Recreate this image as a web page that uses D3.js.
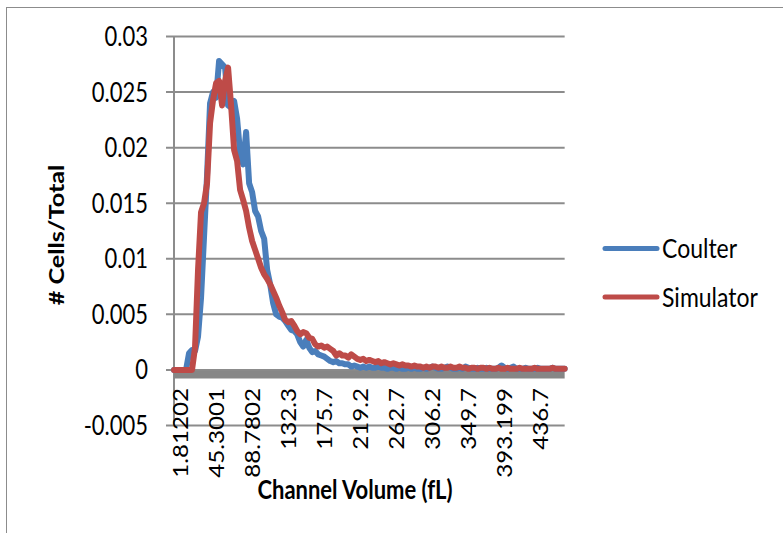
<!DOCTYPE html>
<html>
<head>
<meta charset="utf-8">
<script src="https://cdn.jsdelivr.net/npm/d3@7"></script>
<style>
  body { margin: 0; background: #fff; }
  text { font-family: Lato, "Open Sans", sans-serif; fill: #000; }
</style>
</head>
<body>
<div id="chart"></div>
<script>
// channel labels shown on the category axis (every 12th channel)
var channelLabels = ["1.81202", "45.3001", "88.7802", "132.3", "175.7", "219.2",
                     "262.7", "306.2", "349.7", "393.199", "436.7"];

var yTicks = [-0.005, 0, 0.005, 0.01, 0.015, 0.02, 0.025, 0.03];
var yTickLabels = ["-0.005", "0", "0.005", "0.01", "0.015", "0.02", "0.025", "0.03"];

var seriesNames = ["Coulter", "Simulator"];
var seriesColors = ["#4A7EBB", "#BE4B48"];

// # cells / total, one value per channel
var coulter = [
  0, 0, 0, 0, 0,
  0.0015, 0.0018, 0.0017, 0.0030, 0.0065, 0.0120, 0.0175, 0.0240, 0.0250, 0.0245,
  0.0278, 0.0275, 0.0272, 0.0238, 0.0236, 0.0242, 0.0226,
  0.0195, 0.0185, 0.0214, 0.0168, 0.0160, 0.0143, 0.0138, 0.0125, 0.0118, 0.0090,
  0.0077, 0.0060, 0.0050, 0.0048, 0.0047, 0.0044, 0.0040, 0.0036, 0.0035, 0.0032,
  0.0025, 0.0021, 0.0027, 0.0020, 0.0016, 0.0017, 0.0014,
  0.0013, 0.0012, 0.0010, 0.0008, 0.0007, 0.0008, 0.0006, 0.0006,
  0.0005, 0.0005, 0.0003, 0.0004, 0.0003, 0.0002, 0.0003, 0.0002, 0.0003, 0.0002,
  0.0002, 0.0003, 0.0002, 0.0002, 0.0001, 0.0002, 0.0002, 0.0001, 0.0002, 0.0001,
  0.0001, 0.0002, 0.0001, 0.0002, 0.0001, 0.0001, 0.0002, 0.0001, 0.0002, 0.0003,
  0.0002, 0.0001, 0.0001, 0.0002, 0.0003, 0.0002, 0.0001, 0.0001, 0.0002, 0.0001,
  0.0003, 0.0002, 0.0001, 0.0001, 0.0002, 0.0001, 0.0001, 0.0002, 0.0001, 0.0001,
  0.0001, 0.0002, 0.0004, 0.0002, 0.0001, 0.0002, 0.0003, 0.0001, 0.0001, 0.0001,
  0.0002, 0.0001, 0.0001, 0.0001, 0.0002, 0.0001, 0.0001, 0.0001, 0.0001, 0.0002,
  0.0001, 0.0001, 0.0001, 0.0001
];

var simulator = [
  0, 0, 0, 0, 0, 0, 0,
  0.0020, 0.0090, 0.0142, 0.0150, 0.0168, 0.0222, 0.0243, 0.0258, 0.0260, 0.0238,
  0.0260, 0.0272, 0.0238, 0.0198, 0.0188,
  0.0162, 0.0153, 0.0143, 0.0128, 0.0116, 0.0108,
  0.0100, 0.0092, 0.0086, 0.0082, 0.0077, 0.0071, 0.0065, 0.0058, 0.0052, 0.0045,
  0.0043, 0.0044, 0.0040, 0.0035, 0.0032, 0.0034, 0.0033, 0.0029, 0.0028, 0.0023,
  0.0021, 0.0022, 0.0020, 0.0021, 0.0019, 0.0017, 0.0013, 0.0015, 0.0013,
  0.0013, 0.0011, 0.0014, 0.0012, 0.0010, 0.0009, 0.0010, 0.0008, 0.0009, 0.0008,
  0.0007, 0.0008, 0.0006, 0.0007, 0.0006, 0.0005, 0.0006, 0.0005, 0.0004, 0.0005,
  0.0004, 0.0004, 0.0003, 0.0004, 0.0003,
  0.0003, 0.0002, 0.0003, 0.0002, 0.0003, 0.0003, 0.0002, 0.0003, 0.0002, 0.0002,
  0.0003, 0.0002, 0.0002, 0.0003, 0.0002, 0.0002, 0.0001, 0.0002, 0.0002, 0.0001,
  0.0002, 0.0002, 0.0001, 0.0002, 0.0001, 0.0001, 0.0002, 0.0001, 0.0001, 0.0002,
  0.0001, 0.0001, 0.0001, 0.0002, 0.0001, 0.0001, 0.0001, 0.0001, 0.0002, 0.0001,
  0.0001, 0.0001, 0.0001, 0.0001, 0.0002, 0.0001, 0.0001, 0.0001, 0.0001
];

var width = 783,
    height = 533;

var firstLabel = 2, labelEvery = 12;
var plotLeft = 174, plotTop = 36.5, plotBottom = 425.5, step = 3.005;
var stretch = "scale(1,1.2)"; // the source picture is a bit taller than wide

var svg = d3.select("#chart").append("svg")
    .attr("width", width)
    .attr("height", height);

// chart area border (cut off at right and bottom)
svg.append("rect")
    .attr("x", 6.5).attr("y", 7.5)
    .attr("width", 900).attr("height", 700)
    .attr("fill", "none")
    .attr("stroke", "#8c8c8c")
    .attr("stroke-width", 1);

var n = coulter.length;
var x = d3.scaleLinear()
    .domain([0, n - 1])
    .range([plotLeft, plotLeft + step * (n - 1)]);
var plotRight = x(n - 1);

var y = d3.scaleLinear()
    .domain([-0.005, 0.03])
    .range([plotBottom, plotTop]);

// gridlines with their little left ticks
svg.append("g")
  .selectAll("line")
  .data(yTicks)
  .enter()
  .append("line")
    .attr("x1", plotLeft - 8)
    .attr("x2", plotRight)
    .attr("y1", d => y(d))
    .attr("y2", d => y(d))
    .attr("stroke", "#8c8c8c")
    .attr("stroke-width", 2);

// vertical axis
svg.append("line")
    .attr("x1", plotLeft).attr("x2", plotLeft)
    .attr("y1", y(0.03)).attr("y2", y(-0.005))
    .attr("stroke", "#8c8c8c")
    .attr("stroke-width", 2);

// heavy category axis at zero
svg.append("line")
    .attr("x1", plotLeft).attr("x2", plotRight)
    .attr("y1", y(0) + 4.5).attr("y2", y(0) + 4.5)
    .attr("stroke", "#868686")
    .attr("stroke-width", 8);

svg.append("g")
  .selectAll("text")
  .data(yTicks)
  .enter()
  .append("text")
    .attr("transform", d => "translate(148," + y(d) + ") " + stretch)
    .attr("dy", "0.36em")
    .attr("text-anchor", "end")
    .style("font-size", "22px")
    .text((d, i) => yTickLabels[i]);

svg.append("g")
  .selectAll("text")
  .data(channelLabels)
  .enter()
  .append("text")
    .attr("transform", (d, i) => "translate(" + x(firstLabel + i * labelEvery) + ",388) scale(1,1.15) rotate(-90)")
    .attr("dy", "0.36em")
    .attr("text-anchor", "end")
    .style("font-size", "21px")
    .text(d => d);

var line = d3.line()
    .x((d, i) => x(i))
    .y(d => y(d));

[coulter, simulator].forEach(function(s, k) {
  svg.append("path")
      .datum(s)
      .attr("d", line)
      .attr("fill", "none")
      .attr("stroke", seriesColors[k])
      .attr("stroke-width", 6)
      .attr("stroke-linejoin", "round")
      .attr("stroke-linecap", "round");
});

// axis titles
svg.append("text")
    .attr("transform", "translate(64,235) " + stretch + " rotate(-90)")
    .attr("text-anchor", "middle")
    .style("font-size", "21px")
    .style("font-weight", "bold")
    .text("# Cells/Total");

svg.append("text")
    .attr("transform", "translate(355,499) " + stretch)
    .attr("text-anchor", "middle")
    .style("font-size", "22px")
    .style("font-weight", "bold")
    .text("Channel Volume (fL)");

// legend
var legend = svg.append("g")
  .selectAll("g")
  .data(seriesNames)
  .enter()
  .append("g")
    .attr("transform", (d, i) => "translate(0," + (248.5 + i * 48.5) + ")");

legend.append("line")
    .attr("x1", 605).attr("x2", 657)
    .attr("stroke", (d, i) => seriesColors[i])
    .attr("stroke-width", 5)
    .attr("stroke-linecap", "round");

legend.append("text")
    .attr("transform", "translate(662,0) " + stretch)
    .attr("dy", "0.36em")
    .style("font-size", "23px")
    .text(d => d);
</script>
</body>
</html>
